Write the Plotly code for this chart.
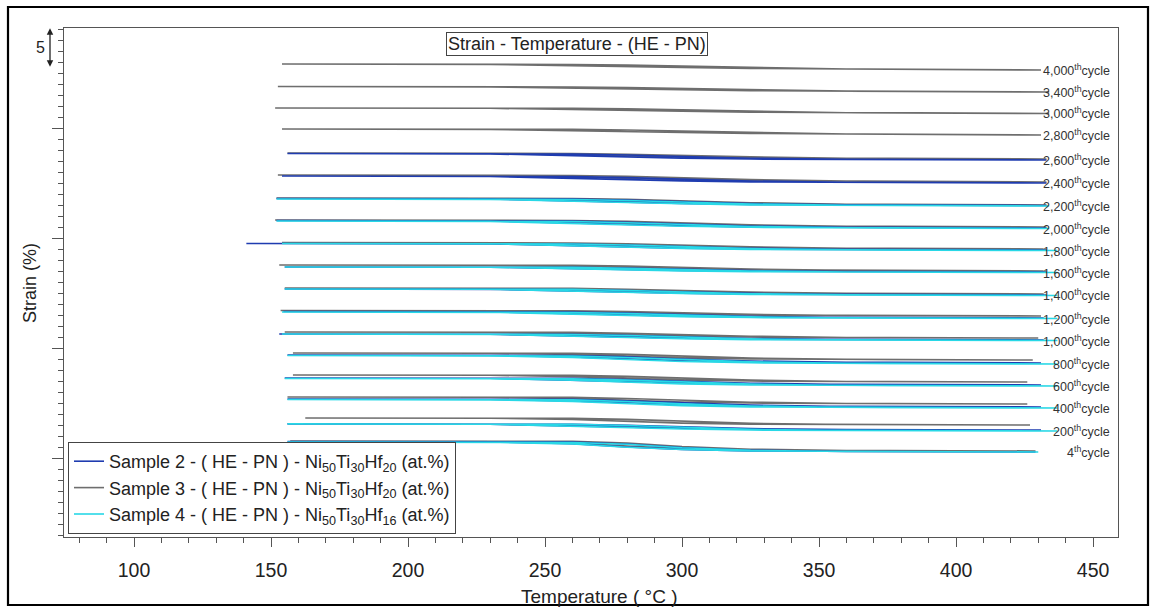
import plotly.graph_objects as go

# ---------------- data ----------------
cycle_labels = ["4,000", "3,400", "3,000", "2,800", "2,600", "2,400", "2,200", "2,000", "1,800",
                "1,600", "1,400", "1,200", "1,000", "800", "600", "400", "200", "4"]

# interior temperatures (°C) shared by the heating / cooling branches
T_mid = [230, 260, 280, 300, 325, 360]

# ---- Sample 3 (grey), all cycles ----
s3_cycles = cycle_labels
s3_offset = [58.375, 55.625, 52.94, 50.25, 47.25, 44.375, 41.5, 38.75, 36.0, 33.25, 30.375,
             27.625, 24.875, 22.125, 19.375, 16.625, 14.0, 10.75]
s3_t_start = [154, 152.5, 151.5, 154, 156, 152.5, 152, 151.5, 154, 153, 155, 153.5, 155, 158, 158, 156, 162.5, 157]
s3_t_end = [431, 434, 434, 431, 433, 433, 433, 433, 432, 432, 432, 431, 430, 428, 426, 426, 427, 429]
s3_heat = [
    [0.75, 0.73, 0.69, 0.61, 0.47, 0.29, 0.12, 0.0],
    [0.69, 0.67, 0.63, 0.56, 0.43, 0.27, 0.11, 0.0],
    [0.69, 0.68, 0.64, 0.57, 0.44, 0.27, 0.10, 0.0],
    [0.75, 0.73, 0.70, 0.62, 0.48, 0.30, 0.12, 0.0],
    [0.75, 0.73, 0.69, 0.60, 0.44, 0.26, 0.10, 0.0],
    [0.88, 0.86, 0.81, 0.70, 0.51, 0.30, 0.11, 0.0],
    [0.88, 0.86, 0.81, 0.70, 0.50, 0.29, 0.10, 0.0],
    [0.88, 0.86, 0.82, 0.71, 0.50, 0.28, 0.10, 0.0],
    [0.81, 0.79, 0.75, 0.65, 0.46, 0.26, 0.09, 0.0],
    [0.75, 0.74, 0.70, 0.61, 0.43, 0.24, 0.08, 0.0],
    [0.75, 0.74, 0.70, 0.60, 0.42, 0.23, 0.08, 0.0],
    [0.69, 0.68, 0.65, 0.56, 0.39, 0.21, 0.07, 0.0],
    [0.75, 0.74, 0.70, 0.60, 0.41, 0.22, 0.07, 0.0],
    [0.88, 0.87, 0.83, 0.70, 0.47, 0.24, 0.08, 0.0],
    [0.88, 0.87, 0.83, 0.70, 0.46, 0.23, 0.07, 0.0],
    [0.88, 0.87, 0.83, 0.69, 0.45, 0.22, 0.07, 0.0],
    [0.88, 0.87, 0.84, 0.70, 0.45, 0.21, 0.06, 0.0],
    [1.25, 1.24, 1.20, 0.98, 0.55, 0.22, 0.07, 0.0],
]
s3_cool = [
    [0.75, 0.70, 0.58, 0.44, 0.31, 0.19, 0.07, 0.0],
    [0.69, 0.64, 0.53, 0.40, 0.28, 0.17, 0.06, 0.0],
    [0.69, 0.65, 0.54, 0.41, 0.29, 0.17, 0.06, 0.0],
    [0.75, 0.70, 0.59, 0.45, 0.32, 0.19, 0.07, 0.0],
    [0.75, 0.69, 0.56, 0.40, 0.27, 0.15, 0.05, 0.0],
    [0.88, 0.82, 0.67, 0.48, 0.32, 0.18, 0.06, 0.0],
    [0.88, 0.82, 0.66, 0.47, 0.31, 0.17, 0.06, 0.0],
    [0.88, 0.82, 0.67, 0.47, 0.30, 0.16, 0.05, 0.0],
    [0.81, 0.76, 0.62, 0.44, 0.28, 0.15, 0.05, 0.0],
    [0.75, 0.71, 0.58, 0.41, 0.26, 0.14, 0.04, 0.0],
    [0.75, 0.71, 0.57, 0.40, 0.25, 0.13, 0.04, 0.0],
    [0.69, 0.65, 0.53, 0.37, 0.23, 0.12, 0.04, 0.0],
    [0.75, 0.71, 0.57, 0.39, 0.24, 0.12, 0.04, 0.0],
    [0.88, 0.84, 0.68, 0.45, 0.27, 0.13, 0.04, 0.0],
    [0.88, 0.84, 0.67, 0.44, 0.26, 0.12, 0.04, 0.0],
    [0.88, 0.84, 0.67, 0.43, 0.25, 0.12, 0.03, 0.0],
    [0.88, 0.85, 0.68, 0.43, 0.24, 0.11, 0.03, 0.0],
    [1.25, 1.21, 1.02, 0.62, 0.32, 0.14, 0.04, 0.0],
]

# ---- Sample 2 (blue), cycles 2,600 .. 4 ----
s2_cycles = cycle_labels[4:]
s2_offset = [47.125, 44.25, 41.44, 38.625, 35.875, 33.125, 30.25, 27.375, 24.625, 21.75, 19.0, 16.25, 13.375, 10.625]
s2_t_start = [156, 154, 152, 152, 141, 155, 155, 154.5, 153, 156, 155, 156, 156, 156]
s2_t_end = [433, 433, 433, 433, 433, 433, 433, 432, 432, 431, 431, 431, 431, 429]
s2_heat = [
    [0.81, 0.80, 0.74, 0.62, 0.42, 0.22, 0.08, 0.0],
    [0.88, 0.86, 0.80, 0.67, 0.46, 0.25, 0.09, 0.0],
    [0.88, 0.86, 0.80, 0.67, 0.45, 0.24, 0.08, 0.0],
    [0.94, 0.92, 0.86, 0.72, 0.48, 0.25, 0.08, 0.0],
    [0.81, 0.80, 0.75, 0.63, 0.42, 0.22, 0.07, 0.0],
    [0.63, 0.62, 0.58, 0.48, 0.32, 0.17, 0.06, 0.0],
    [0.75, 0.74, 0.69, 0.57, 0.38, 0.20, 0.07, 0.0],
    [0.81, 0.80, 0.75, 0.62, 0.41, 0.21, 0.07, 0.0],
    [0.75, 0.74, 0.70, 0.58, 0.38, 0.19, 0.06, 0.0],
    [1.00, 0.99, 0.94, 0.78, 0.50, 0.25, 0.08, 0.0],
    [0.88, 0.87, 0.83, 0.68, 0.44, 0.22, 0.07, 0.0],
    [1.00, 0.99, 0.95, 0.78, 0.50, 0.24, 0.07, 0.0],
    [0.75, 0.74, 0.71, 0.58, 0.37, 0.18, 0.05, 0.0],
    [1.31, 1.30, 1.25, 1.00, 0.55, 0.22, 0.07, 0.0],
]
s2_cool = [
    [0.81, 0.76, 0.60, 0.40, 0.24, 0.12, 0.04, 0.0],
    [0.88, 0.82, 0.64, 0.43, 0.27, 0.14, 0.05, 0.0],
    [0.88, 0.82, 0.64, 0.43, 0.26, 0.13, 0.04, 0.0],
    [0.94, 0.88, 0.69, 0.46, 0.28, 0.14, 0.04, 0.0],
    [0.81, 0.77, 0.61, 0.40, 0.24, 0.12, 0.04, 0.0],
    [0.63, 0.60, 0.47, 0.31, 0.19, 0.10, 0.03, 0.0],
    [0.75, 0.71, 0.56, 0.37, 0.22, 0.11, 0.03, 0.0],
    [0.81, 0.77, 0.61, 0.40, 0.24, 0.12, 0.04, 0.0],
    [0.75, 0.72, 0.57, 0.37, 0.22, 0.11, 0.03, 0.0],
    [1.00, 0.96, 0.77, 0.49, 0.29, 0.14, 0.04, 0.0],
    [0.88, 0.85, 0.68, 0.43, 0.26, 0.12, 0.03, 0.0],
    [1.00, 0.96, 0.77, 0.48, 0.28, 0.13, 0.04, 0.0],
    [0.75, 0.72, 0.58, 0.36, 0.21, 0.10, 0.03, 0.0],
    [1.31, 1.27, 1.05, 0.63, 0.33, 0.14, 0.04, 0.0],
]

# ---- Sample 4 (cyan), cycles 2,200 .. 4 ----
s4_cycles = cycle_labels[6:]
s4_offset = [41.375, 38.56, 35.81, 33.06, 30.19, 27.31, 24.56, 21.625, 18.875, 16.125, 13.25, 10.625]
s4_t_start = [152, 152, 154, 155, 155, 154, 154, 156, 155, 156, 156, 156]
s4_t_end = [434, 434, 437, 437, 437, 437, 437, 437, 437, 437, 437, 430]
s4_heat = [
    [0.88, 0.87, 0.82, 0.69, 0.47, 0.25, 0.09, 0.0],
    [0.94, 0.93, 0.87, 0.73, 0.49, 0.26, 0.09, 0.0],
    [0.88, 0.87, 0.82, 0.69, 0.46, 0.24, 0.08, 0.0],
    [0.69, 0.68, 0.64, 0.53, 0.36, 0.19, 0.06, 0.0],
    [0.81, 0.80, 0.76, 0.63, 0.42, 0.22, 0.07, 0.0],
    [0.81, 0.80, 0.76, 0.62, 0.41, 0.21, 0.07, 0.0],
    [0.81, 0.80, 0.76, 0.62, 0.40, 0.20, 0.06, 0.0],
    [1.06, 1.05, 1.00, 0.82, 0.53, 0.26, 0.08, 0.0],
    [0.94, 0.93, 0.89, 0.73, 0.47, 0.23, 0.07, 0.0],
    [1.06, 1.05, 1.01, 0.82, 0.52, 0.25, 0.07, 0.0],
    [0.88, 0.87, 0.84, 0.68, 0.43, 0.21, 0.06, 0.0],
    [1.25, 1.24, 1.19, 0.96, 0.53, 0.21, 0.06, 0.0],
]
s4_cool = [
    [0.88, 0.83, 0.66, 0.45, 0.28, 0.14, 0.05, 0.0],
    [0.94, 0.89, 0.70, 0.47, 0.29, 0.15, 0.05, 0.0],
    [0.88, 0.84, 0.66, 0.44, 0.27, 0.13, 0.04, 0.0],
    [0.69, 0.66, 0.52, 0.34, 0.21, 0.10, 0.03, 0.0],
    [0.81, 0.77, 0.61, 0.40, 0.24, 0.12, 0.04, 0.0],
    [0.81, 0.78, 0.61, 0.40, 0.24, 0.12, 0.04, 0.0],
    [0.81, 0.78, 0.61, 0.39, 0.23, 0.11, 0.03, 0.0],
    [1.06, 1.02, 0.81, 0.52, 0.31, 0.15, 0.04, 0.0],
    [0.94, 0.91, 0.72, 0.46, 0.27, 0.13, 0.04, 0.0],
    [1.06, 1.02, 0.81, 0.51, 0.30, 0.14, 0.04, 0.0],
    [0.88, 0.85, 0.68, 0.42, 0.25, 0.12, 0.03, 0.0],
    [1.25, 1.21, 1.01, 0.60, 0.31, 0.13, 0.04, 0.0],
]

x_ticks = [100, 150, 200, 250, 300, 350, 400, 450]

# ---------------- figure ----------------
FONT = "Liberation Sans, Arial, sans-serif"
W, H = 1156, 608
ML, MR, MT, MB = 64, 38, 28, 71
PW, PH = W - ML - MR, H - MT - MB

def px_x(p):
    return (p - ML) / PW

def px_y(p):
    return (H - MB - p) / PH

samples = [
    dict(name="Sample 3 - ( HE - PN ) - Ni<sub>50</sub>Ti<sub>30</sub>Hf<sub>20</sub> (at.%)",
         color="#6e6e6e", rank=2, cycles=s3_cycles, offset=s3_offset,
         ts=s3_t_start, te=s3_t_end, heat=s3_heat, cool=s3_cool),
    dict(name="Sample 2 - ( HE - PN ) - Ni<sub>50</sub>Ti<sub>30</sub>Hf<sub>20</sub> (at.%)",
         color="#1f3cb0", rank=1, cycles=s2_cycles, offset=s2_offset,
         ts=s2_t_start, te=s2_t_end, heat=s2_heat, cool=s2_cool),
    dict(name="Sample 4 - ( HE - PN ) - Ni<sub>50</sub>Ti<sub>30</sub>Hf<sub>16</sub> (at.%)",
         color="#28d8e6", rank=3, cycles=s4_cycles, offset=s4_offset,
         ts=s4_t_start, te=s4_t_end, heat=s4_heat, cool=s4_cool),
]

fig = go.Figure()
for s in samples:
    for i, cyc in enumerate(s["cycles"]):
        temps = [s["ts"][i]] + T_mid + [s["te"][i]]
        off = s["offset"][i]
        xs = temps + temps[::-1]
        ys = [off + v for v in s["heat"][i]] + [off + v for v in s["cool"][i][::-1]]
        fig.add_trace(go.Scatter(
            x=xs, y=ys, mode="lines",
            line=dict(color=s["color"], width=1.6),
            name=s["name"], legendgroup=s["name"], legendrank=s["rank"],
            showlegend=(i == 0), hoverinfo="skip"))

# cycle labels at the level of the lowest curve of each cycle
level = {}
for s in samples:
    for cyc, off in zip(s["cycles"], s["offset"]):
        level[cyc] = min(level.get(cyc, 1e9), off)

annotations = []
for cyc in cycle_labels:
    annotations.append(dict(
        x=px_x(1112), xref="paper", y=level[cyc], yref="y",
        text=f"{cyc}<sup>th</sup>cycle", showarrow=False, xanchor="right", yanchor="middle",
        font=dict(family=FONT, size=12.5, color="#333")))

# title box
annotations.append(dict(
    x=px_x(577), y=px_y(44), xref="paper", yref="paper", xanchor="center", yanchor="middle",
    text="Strain - Temperature - (HE - PN)", showarrow=False,
    font=dict(family=FONT, size=18, color="#222"),
    bordercolor="#444", borderwidth=1, borderpad=1, bgcolor="white"))
# axis titles
annotations.append(dict(
    x=px_x(599), y=px_y(596), xref="paper", yref="paper", xanchor="center", yanchor="middle",
    text="Temperature ( °C )", showarrow=False,
    font=dict(family=FONT, size=19, color="#222")))
annotations.append(dict(
    x=px_x(30), y=px_y(283), xref="paper", yref="paper", textangle=-90,
    xanchor="center", yanchor="middle",
    text="Strain (%)", showarrow=False,
    font=dict(family=FONT, size=18, color="#222")))
# 5 % scale bar
annotations.append(dict(
    x=px_x(50), xref="paper", y=63.6, yref="y", ax=0, axref="pixel", ay=58.6, ayref="y",
    text="", showarrow=True, arrowside="end+start", arrowhead=2, arrowsize=1,
    arrowwidth=1.3, arrowcolor="#222"))
annotations.append(dict(
    x=px_x(40), y=px_y(48), xref="paper", yref="paper", xanchor="center", yanchor="middle",
    text="5", showarrow=False, font=dict(family=FONT, size=16, color="#222")))

shapes = [dict(type="rect", xref="paper", yref="paper",
               x0=px_x(8), x1=px_x(1148), y0=px_y(605), y1=px_y(7),
               line=dict(color="black", width=2.2))]

fig.update_layout(
    width=W, height=H, autosize=False,
    margin=dict(l=ML, r=MR, t=MT, b=MB),
    paper_bgcolor="white", plot_bgcolor="white",
    font=dict(family=FONT, color="#222"),
    showlegend=True,
    legend=dict(x=px_x(68), y=px_y(442), xanchor="left", yanchor="top",
                bordercolor="#444", borderwidth=1, bgcolor="white",
                font=dict(family=FONT, size=18, color="#222"),
                tracegroupgap=0, itemwidth=30),
    annotations=annotations, shapes=shapes,
)

fig.update_xaxes(
    range=[74.45, 459.1], showgrid=False, zeroline=False,
    showline=True, linecolor="#555", linewidth=1.3, mirror=True,
    ticks="outside", ticklen=9, tickcolor="#555", tickwidth=1.2,
    tickvals=x_ticks, ticktext=[str(v) for v in x_ticks],
    tickfont=dict(family=FONT, size=19.5, color="#222"), ticklabelstandoff=6,
    minor=dict(dtick=10, tick0=0, ticks="outside", ticklen=5, tickcolor="#555", showgrid=False),
)
fig.update_yaxes(
    range=[0, PH / 8.0], showgrid=False, zeroline=False,
    showline=True, linecolor="#555", linewidth=1.3, mirror=True,
    ticks="outside", ticklen=11, tickcolor="#555", tickwidth=1.2,
    tickmode="linear", tick0=9.875, dtick=13.75, showticklabels=False,
    minor=dict(dtick=1.375, tick0=9.875, ticks="outside", ticklen=5, tickcolor="#555", showgrid=False),
)

fig.write_html("out.html")
